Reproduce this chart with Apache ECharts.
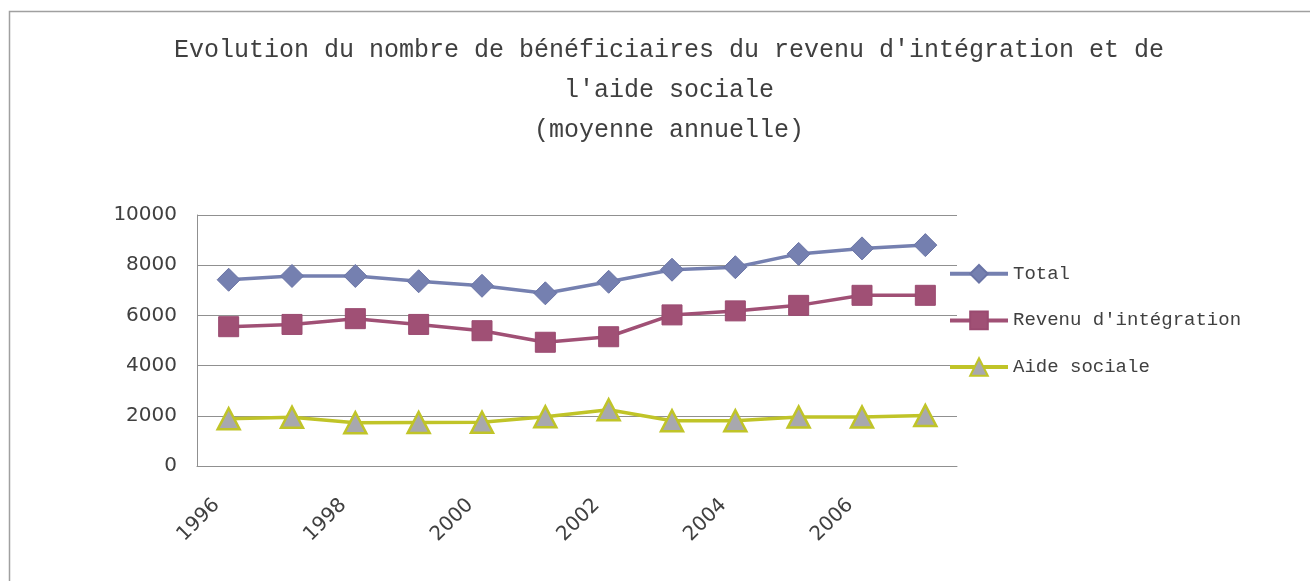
<!DOCTYPE html>
<html>
<head>
<meta charset="utf-8">
<script src="https://cdn.jsdelivr.net/npm/echarts@6/dist/echarts.min.js"></script>
<style>html,body{margin:0;padding:0;background:#fff}#c{width:1310px;height:581px}</style>
</head>
<body>
<div id="c"></div>
<script>
const years = ['1996','1997','1998','1999','2000','2001','2002','2003','2004','2005','2006','2007'];
const total = [7420, 7570, 7570, 7360, 7180, 6880, 7340, 7820, 7920, 8450, 8670, 8800];
const revenu = [5550, 5640, 5870, 5640, 5390, 4930, 5150, 6020, 6180, 6400, 6800, 6800];
const aide = [1880, 1940, 1720, 1730, 1740, 1960, 2240, 1800, 1800, 1950, 1950, 2010];
const seriesNames = ['Total', "Revenu d'intégration", 'Aide sociale'];
const titleText = "Evolution du nombre de bénéficiaires du revenu d'intégration et de\nl'aide sociale\n(moyenne annuelle)";

const chart = echarts.init(document.getElementById('c'), null, {renderer: 'canvas'});
const mono = '"Liberation Mono", "DejaVu Sans Mono", monospace';
chart.setOption({
  animation: false,
  backgroundColor: '#fff',
  graphic: [{
    type: 'rect', left: 7, top: 9, z: -1,
    shape: {width: 1400, height: 700},
    style: {fill: 'none', stroke: '#a0a0a0', lineWidth: 1.5}
  }],
  title: {
    text: titleText,
    left: 664, top: 25, textAlign: 'center',
    textStyle: {fontFamily: mono, fontSize: 25, fontWeight: 'normal', color: '#404040', lineHeight: 40}
  },
  legend: {
    orient: 'vertical', left: 943, top: 259,
    itemWidth: 58, itemHeight: 22, itemGap: 27,
    lineStyle: {width: 4},
    textStyle: {fontFamily: mono, fontSize: 19, color: '#404040'},
    data: seriesNames
  },
  grid: {left: 197, right: 353, top: 215, bottom: 115},
  xAxis: {
    type: 'category', data: years, boundaryGap: true,
    axisLine: {lineStyle: {color: '#909090', width: 1}},
    axisTick: {show: false},
    axisLabel: {interval: 1, rotate: 45, margin: 24, padding: [0, 17, 0, 0], fontFamily: '"DejaVu Sans", sans-serif', fontSize: 20, color: '#404040'}
  },
  yAxis: {
    type: 'value', min: 0, max: 10000, interval: 2000,
    axisLine: {show: true, lineStyle: {color: '#909090', width: 1}},
    axisTick: {show: false},
    splitLine: {lineStyle: {color: '#909090', width: 1}},
    axisLabel: {margin: 20, formatter: v => String(v), fontFamily: '"DejaVu Sans", sans-serif', fontSize: 20, color: '#404040'}
  },
  series: [
    {name: seriesNames[0], type: 'line', data: total, symbol: 'diamond', symbolSize: [23, 23],
     lineStyle: {color: '#7580B0', width: 3.5}, itemStyle: {color: '#7580B0', borderColor: '#6a74a6', borderWidth: 1}},
    {name: seriesNames[1], type: 'line', data: revenu, symbol: 'rect', symbolSize: 20,
     lineStyle: {color: '#A05075', width: 3.5}, itemStyle: {color: '#A05075', borderColor: '#9a4a70', borderWidth: 1}},
    {name: seriesNames[2], type: 'line', data: aide, symbol: 'triangle', symbolSize: [22, 21],
     lineStyle: {color: '#C0C428', width: 3.5}, itemStyle: {color: '#A8A8AE', borderColor: '#C0C428', borderWidth: 2.5}}
  ]
});
</script>
</body>
</html>
